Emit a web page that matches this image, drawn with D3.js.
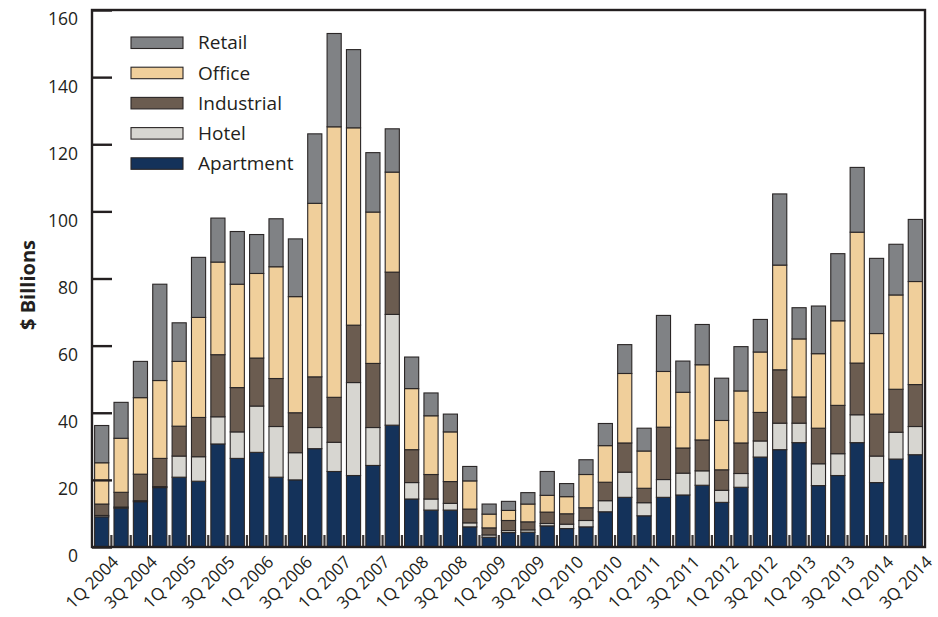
<!DOCTYPE html>
<html>
<head>
<meta charset="utf-8">
<script src="https://cdn.jsdelivr.net/npm/d3@7"></script>
<style>
  html, body { margin: 0; padding: 0; background: #ffffff; }
  svg { display: block; }
  text { font-family: "Open Sans", "Noto Sans", sans-serif; fill: #231f20; }
</style>
</head>
<body>
<svg id="chart" width="938" height="617"></svg>
<script>
const quarters = [
  "1Q 2004","2Q 2004","3Q 2004","4Q 2004",
  "1Q 2005","2Q 2005","3Q 2005","4Q 2005",
  "1Q 2006","2Q 2006","3Q 2006","4Q 2006",
  "1Q 2007","2Q 2007","3Q 2007","4Q 2007",
  "1Q 2008","2Q 2008","3Q 2008","4Q 2008",
  "1Q 2009","2Q 2009","3Q 2009","4Q 2009",
  "1Q 2010","2Q 2010","3Q 2010","4Q 2010",
  "1Q 2011","2Q 2011","3Q 2011","4Q 2011",
  "1Q 2012","2Q 2012","3Q 2012","4Q 2012",
  "1Q 2013","2Q 2013","3Q 2013","4Q 2013",
  "1Q 2014","2Q 2014","3Q 2014"
];
const apartment  = [9.0,11.6,13.5,17.7,20.8,19.6,30.7,26.4,28.2,20.8,20.0,29.3,22.5,21.3,24.3,36.3,14.3,11.0,11.0,6.0,2.9,4.3,4.4,6.3,5.5,6.0,10.5,14.8,9.3,14.8,15.5,18.4,13.3,17.8,26.8,29.0,31.1,18.3,21.3,31.1,19.2,26.2,27.5];
const hotel      = [0.4,0.3,0.3,0.3,6.3,7.3,8.1,7.9,13.8,15.1,8.1,6.3,8.7,27.7,11.3,33.0,4.9,3.3,2.0,1.2,0.7,0.6,0.7,0.7,1.3,1.9,3.3,7.5,3.9,5.3,6.5,4.3,3.6,4.1,4.8,7.9,5.8,6.5,6.5,8.3,7.9,8.0,8.4];
const industrial = [3.4,4.4,7.9,8.4,8.9,11.7,18.5,13.2,14.3,14.3,11.9,15.1,13.4,17.1,19.1,12.6,9.8,7.3,6.5,4.1,2.1,3.0,2.4,3.4,3.1,3.8,5.5,8.7,4.3,15.6,7.5,9.2,6.1,9.1,8.5,15.9,7.8,10.6,14.4,15.4,12.5,12.8,12.5];
const office     = [12.3,16.1,22.8,23.2,19.3,29.8,27.6,30.8,25.2,33.3,34.6,51.7,80.6,58.8,45.1,29.8,18.2,17.5,14.8,8.4,4.1,3.0,5.3,5.0,5.1,9.9,10.9,20.7,11.1,16.6,16.6,22.4,14.7,15.5,18.0,31.2,17.3,22.2,25.2,39.0,24.0,28.1,30.7];
const retail     = [11.1,10.7,10.8,28.7,11.5,17.9,13.1,15.7,11.6,14.3,17.2,20.7,27.8,23.3,17.7,12.9,9.4,6.8,5.3,4.3,3.0,2.7,3.4,7.1,3.9,4.4,6.6,8.6,6.8,16.7,9.3,12.0,12.6,13.2,9.7,21.2,9.3,14.2,20.0,19.3,22.4,15.1,18.5];

const seriesKeys   = ["Apartment","Hotel","Industrial","Office","Retail"];
const seriesValues = [apartment, hotel, industrial, office, retail];
const seriesColors = ["#14325a","#d7d6d1","#6b5c50","#f0cf9b","#808285"];
const legendOrder  = ["Retail","Office","Industrial","Hotel","Apartment"];
const yTicks = [0,20,40,60,80,100,120,140,160];
const yTitle = "$ Billions";

const W = 938, H = 617;
const M = {left: 92, right: 13, top: 10, bottom: 70};
const svg = d3.select("#chart");

const table = quarters.map((q, i) => {
  const row = {quarter: q};
  seriesKeys.forEach((k, j) => row[k] = seriesValues[j][i]);
  return row;
});

const x = d3.scaleBand().domain(quarters)
  .range([M.left, W - M.right])
  .paddingInner(0.27).paddingOuter(0.135);
const y = d3.scaleLinear().domain([0, 160]).range([H - M.bottom, M.top]);
const color = d3.scaleOrdinal().domain(seriesKeys).range(seriesColors);

const stacked = d3.stack().keys(seriesKeys)(table);

// bars
svg.append("g").selectAll("g").data(stacked).join("g")
  .attr("fill", d => color(d.key))
  .selectAll("rect").data(d => d).join("rect")
  .attr("x", d => x(d.data.quarter))
  .attr("width", x.bandwidth())
  .attr("y", d => y(d[1]))
  .attr("height", d => y(d[0]) - y(d[1]))
  .attr("stroke", "#2a2626")
  .attr("stroke-width", 1.1);

// bottom tick marks between bars
const step = x.step();
svg.append("g").selectAll("line").data(quarters.slice(1)).join("line")
  .attr("x1", d => x(d) - step * x.paddingInner() / 2)
  .attr("x2", d => x(d) - step * x.paddingInner() / 2)
  .attr("y1", y(0)).attr("y2", y(0) - 12)
  .attr("stroke", "#3a3636").attr("stroke-width", 2.2);

// left axis with inward ticks
const yAxis = d3.axisLeft(y).tickValues(yTicks).tickSize(-20).tickPadding(14);
const gy = svg.append("g").attr("transform", `translate(${M.left},0)`).call(yAxis);
gy.select(".domain").remove();
gy.selectAll(".tick line").attr("stroke", "#231f20").attr("stroke-width", 2.4);
gy.selectAll(".tick text")
  .attr("font-size", 17.5)
  .attr("font-family", "'Open Sans', sans-serif")
  .attr("fill", "#231f20")
  .attr("dy", "0.85em");

// bottom axis labels (every other quarter)
const xAxis = d3.axisBottom(x).tickSize(0)
  .tickValues(quarters.filter((q, i) => i % 2 === 0));
const gx = svg.append("g").attr("transform", `translate(0,${y(0)})`).call(xAxis);
gx.select(".domain").remove();
gx.selectAll(".tick text")
  .attr("font-size", 17)
  .attr("font-family", "'Open Sans', sans-serif")
  .attr("fill", "#231f20")
  .attr("text-anchor", "end")
  .attr("y", 0).attr("dy", 0)
  .attr("transform", "translate(18,16) rotate(-45)");

// frame
svg.append("rect")
  .attr("x", M.left).attr("y", M.top)
  .attr("width", W - M.right - M.left).attr("height", y(0) - M.top)
  .attr("fill", "none").attr("stroke", "#231f20").attr("stroke-width", 2.4);

// y title
svg.append("text")
  .attr("transform", "translate(35,285) rotate(-90)")
  .attr("text-anchor", "middle")
  .attr("font-size", 20).attr("font-weight", "bold")
  .text(yTitle);

// legend
const lg = svg.append("g").attr("transform", "translate(131,37)");
const li = lg.selectAll("g").data(legendOrder).join("g")
  .attr("transform", (d, i) => `translate(0,${i * 30.2})`);
li.append("rect").attr("width", 52).attr("height", 11.5)
  .attr("fill", d => color(d)).attr("stroke", "#2a2626").attr("stroke-width", 1.1);
li.append("text").attr("x", 67).attr("y", 5.8).attr("dy", "0.35em")
  .attr("font-size", 19).text(d => d);
</script>
</body>
</html>
